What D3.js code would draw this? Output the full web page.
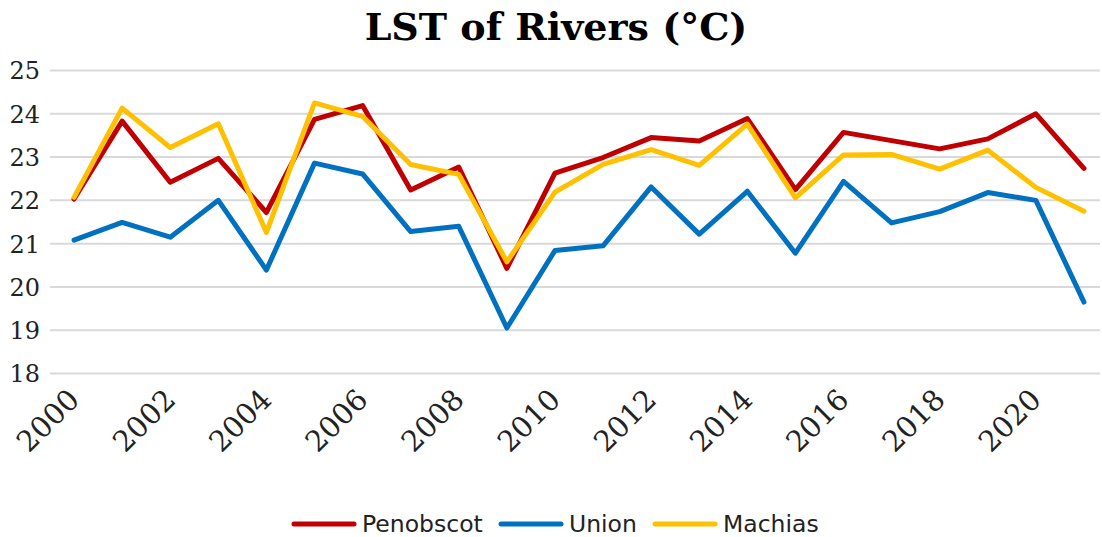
<!DOCTYPE html>
<meta charset="utf-8">
<style>
body{ margin:0; background-color:white; }
</style>
<body>
<svg class="chart"></svg>
<script src="https://d3js.org/d3.v7.min.js"></script>
<script>
// years on the category axis
var years = d3.range(2000, 2022);

// yearly river surface temperature (°C)
var penobscot = [22.03, 23.83, 22.42, 22.97, 21.72, 23.87, 24.19, 22.24, 22.77, 20.43, 22.63,
                 22.99, 23.45, 23.37, 23.89, 22.25, 23.57, 23.38, 23.19, 23.42, 24.0, 22.74];
var union     = [21.08, 21.49, 21.15, 22.0, 20.39, 22.86, 22.61, 21.28, 21.4, 19.05, 20.84,
                 20.95, 22.31, 21.22, 22.21, 20.78, 22.44, 21.48, 21.74, 22.18, 22.0, 19.65];
var machias   = [22.07, 24.13, 23.22, 23.77, 21.26, 24.25, 23.94, 22.83, 22.6, 20.58, 22.19,
                 22.83, 23.17, 22.81, 23.76, 22.06, 23.05, 23.06, 22.72, 23.16, 22.3, 21.75];

var seriesNames = ['Penobscot', 'Union', 'Machias'];
var yTicks = [18, 19, 20, 21, 22, 23, 24, 25];
</script>

<script>
var w = 1102, h = 537;
// plot box (note: "top" is taken by window.top, so use plot* names)
var plotLeft = 50, plotRight = 1108, plotTop = 70.5, plotBottom = 373.5;

var svg = d3.select('svg').attr('width', w).attr('height', h);

var series = [
  {name: seriesNames[0], values: penobscot, color: '#C00000'},
  {name: seriesNames[1], values: union, color: '#0070C0'},
  {name: seriesNames[2], values: machias, color: '#FFC000'}
];

var x = d3.scaleBand().domain(years).range([plotLeft, plotRight]);
var y = d3.scaleLinear().domain([18, 25]).range([plotBottom, plotTop]);

function cx(d) { return x(d) + x.bandwidth() / 2; }

// title
svg.append('text')
  .attr('x', 556).attr('y', 40)
  .attr('text-anchor', 'middle')
  .attr('font-family', 'DejaVu Serif')
  .attr('font-weight', 'bold')
  .attr('font-size', '38px')
  .text('LST of Rivers (°C)');

// gridlines
svg.selectAll('line.grid')
  .data(yTicks)
  .enter()
  .append('line')
  .attr('class', 'grid')
  .attr('x1', plotLeft).attr('x2', plotRight - 8)
  .attr('y1', function (d) { return y(d); })
  .attr('y2', function (d) { return y(d); })
  .attr('stroke', '#d9d9d9')
  .attr('stroke-width', 2);

// y axis labels
var yAxis = d3.axisLeft(y).tickValues(yTicks).tickFormat(d3.format('d'))
  .tickSize(0).tickPadding(8);
var gy = svg.append('g').attr('transform', 'translate(' + (plotLeft - 2) + ',0)').call(yAxis);
gy.select('.domain').remove();
gy.selectAll('text')
  .attr('font-family', 'DejaVu Serif')
  .attr('font-size', '24px')
  .attr('fill', '#222')
  .attr('dy', '0.35em');

// x axis labels, every second year
var xAxis = d3.axisBottom(x).tickValues(years.filter(function (d) { return d % 2 == 0; }))
  .tickSize(0).tickPadding(0);
var gx = svg.append('g').attr('transform', 'translate(0,' + plotBottom + ')').call(xAxis);
gx.select('.domain').remove();
gx.selectAll('text')
  .attr('font-family', 'DejaVu Serif')
  .attr('font-size', '29px')
  .attr('fill', '#222')
  .attr('text-anchor', 'end')
  .attr('dy', '0')
  .attr('transform', 'translate(7,28) rotate(-45)');

// lines
var line = d3.line()
  .x(function (d, i) { return cx(years[i]); })
  .y(function (d) { return y(d); });

svg.selectAll('path.series')
  .data(series)
  .enter()
  .append('path')
  .attr('class', 'series')
  .attr('d', function (d) { return line(d.values); })
  .attr('fill', 'none')
  .attr('stroke', function (d) { return d.color; })
  .attr('stroke-width', 5)
  .attr('stroke-linejoin', 'round')
  .attr('stroke-linecap', 'round');

// legend
var legendX = [294, 501, 655];
var lg = svg.selectAll('g.legend')
  .data(series)
  .enter()
  .append('g')
  .attr('class', 'legend')
  .attr('transform', function (d, i) { return 'translate(' + legendX[i] + ',524)'; });

lg.append('line')
  .attr('x1', 0).attr('x2', 60)
  .attr('stroke', function (d) { return d.color; })
  .attr('stroke-width', 5)
  .attr('stroke-linecap', 'round');

lg.append('text')
  .attr('x', 68).attr('y', 8)
  .attr('font-family', 'DejaVu Sans')
  .attr('font-size', '23.5px')
  .attr('fill', '#222')
  .text(function (d) { return d.name; });
</script>
</body>
